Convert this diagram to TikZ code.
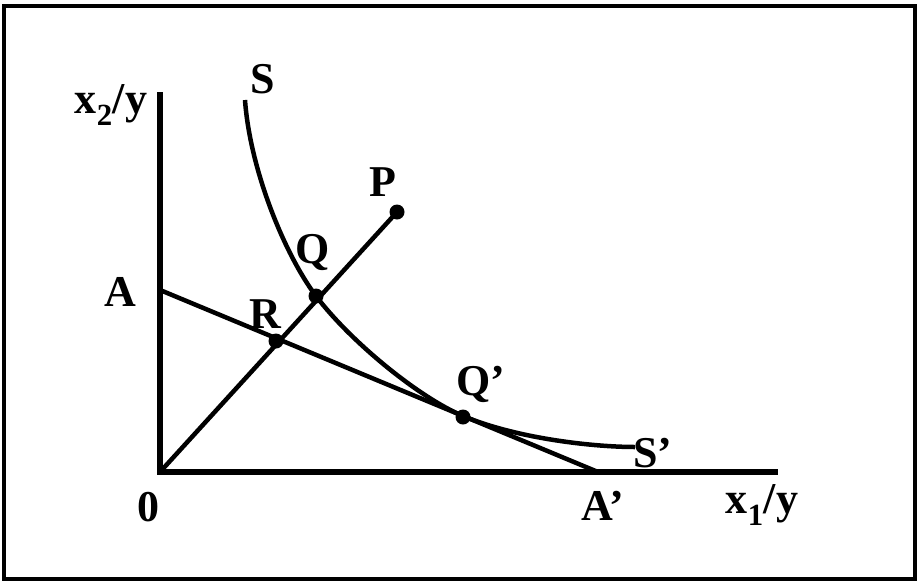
\documentclass[tikz,border=0pt]{standalone}
\usepackage{fontspec}
\setmainfont{Liberation Serif}
\begin{document}
\begin{tikzpicture}[x=1pt,y=-1pt,
  lbl/.style={font=\fontsize{44}{48}\selectfont\bfseries, inner sep=0pt},
  axis/.style={line width=6pt},
  ln/.style={line width=4.5pt},
  dot/.style={circle, fill=black, inner sep=0pt, minimum size=15pt}]
\useasboundingbox (0,0) rectangle (918,584);
\draw[line width=3.5pt] (4,6) rectangle (915,579);
% axes
\coordinate (O) at (160,472);
\coordinate (ytop) at (160,92);
\coordinate (xend) at (778,472);
\draw[axis] (ytop) -- (O) -- (xend);
% budget line
\coordinate (A0) at (160,290);
\coordinate (A1) at (598,472);
\draw[ln] (A0) -- (A1);
% points
\node[dot] (P) at (397,212) {};
\node[dot] (Q) at (316,296) {};
\node[dot] (R) at (276,341) {};
\node[dot] (Qp) at (463,417) {};
\draw[ln] (O) -- (P.center);
% isoquant
\coordinate (S0) at (245,100);
\coordinate (S1) at (635,447);
\draw[ln] (S0) .. controls (250,170) and (285,255) .. (Q.center)
  .. controls (350,341) and (418,397) .. (463,416)
  .. controls (518,439) and (595,447) .. (S1);
% labels
\node[lbl] (lx2) at (111,105) {x\textsubscript{2}/y};
\node[lbl] (lS) at (263,79) {S};
\node[lbl] (lP) at (383,182) {P};
\node[lbl] (lQ) at (313,252) {Q};
\node[lbl] (lR) at (265,314) {R};
\node[lbl] (lA) at (120,292) {A};
\node[lbl] (lQp) at (481,384) {Q’};
\node[lbl] (lSp) at (653,453) {S’};
\node[lbl] (l0) at (148,507) {0};
\node[lbl] (lAp) at (603,506) {A’};
\node[lbl] (lx1) at (762,505) {x\textsubscript{1}/y};
\end{tikzpicture}
\end{document}
